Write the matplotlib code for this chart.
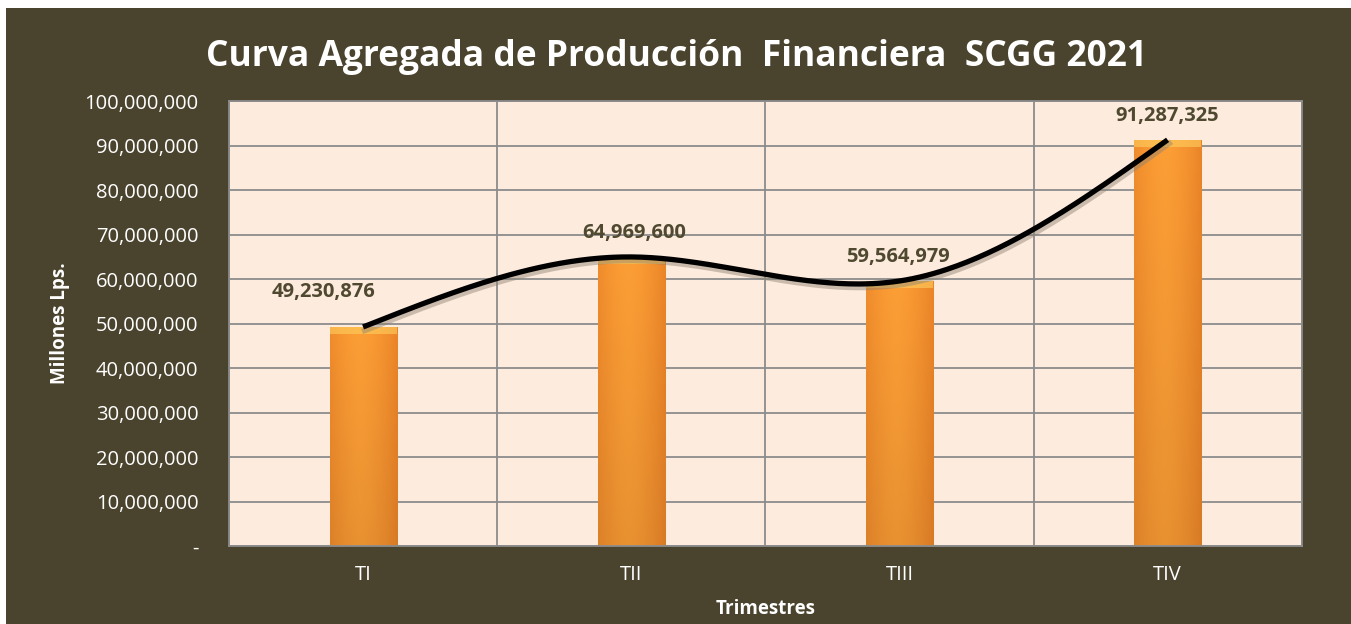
import matplotlib.pyplot as plt
import numpy as np
from matplotlib.patches import Rectangle
from matplotlib.ticker import FuncFormatter

plt.rcParams['font.family'] = ['Open Sans', 'DejaVu Sans']

# data
trimestres = ['TI', 'TII', 'TIII', 'TIV']
produccion = [49230876, 64969600, 59564979, 91287325]
yticks = np.arange(0, 100000001, 10000000)

bg = '#4A432D'
plot_bg = '#FDEBDD'

fig = plt.figure(figsize=(13.51, 6.24), dpi=100)
fig.patch.set_facecolor('white')
fig.patches.append(Rectangle((6 / 1351, 0), 1, 1 - 8 / 624, transform=fig.transFigure,
                             facecolor=bg, edgecolor='none', zorder=-10))

ax = fig.add_axes([0.1695, 0.125, 0.794, 0.713])
ax.set_facecolor(plot_bg)

x = np.arange(len(trimestres))
bars = ax.bar(x, produccion, width=0.25, color='#F7942E', edgecolor='none', zorder=2)

# orange gradient inside each bar (horizontal + vertical)
nx, ny = 64, 64
gx = np.linspace(0, 1, nx)
gy = np.linspace(0, 1, ny)  # 0 = top row of image
hprof = np.clip(1 - 1.0 * np.abs(gx - 0.45) ** 1.6 * 2, 0, 1)
base = np.array([0.99, 0.62, 0.21])
dark = np.array([0.90, 0.49, 0.14])
img = np.zeros((ny, nx, 3))
for j in range(ny):
    vfac = 1 - 0.08 * gy[j]
    for i in range(nx):
        img[j, i, :] = (dark + (base - dark) * hprof[i]) * vfac
for b in bars:
    x0, w, h = b.get_x(), b.get_width(), b.get_height()
    im = ax.imshow(img, extent=[x0, x0 + w, 0, h], aspect='auto', zorder=2.1,
                   interpolation='bilinear')
    im.set_clip_path(b)
    # top highlight
    ax.add_patch(Rectangle((x0, h - 1500000), w, 1500000, facecolor='#FFD060',
                           alpha=0.6, edgecolor='none', zorder=2.2))

# smoothed line: natural cubic spline through the bar tops
px = x.astype(float)
py = np.array(produccion, dtype=float)
n = len(px)
hh = np.diff(px)
A = np.zeros((n, n))
r = np.zeros(n)
A[0, 0] = A[-1, -1] = 1
for i in range(1, n - 1):
    A[i, i - 1] = hh[i - 1]
    A[i, i] = 2 * (hh[i - 1] + hh[i])
    A[i, i + 1] = hh[i]
    r[i] = 6 * ((py[i + 1] - py[i]) / hh[i] - (py[i] - py[i - 1]) / hh[i - 1])
M = np.linalg.solve(A, r)
cx, cy = [], []
for i in range(n - 1):
    t = np.linspace(px[i], px[i + 1], 80)
    a = (px[i + 1] - t) / hh[i]
    bb = (t - px[i]) / hh[i]
    s = (a * py[i] + bb * py[i + 1]
         + ((a ** 3 - a) * M[i] + (bb ** 3 - bb) * M[i + 1]) * hh[i] ** 2 / 6)
    cx.extend(t)
    cy.extend(s)
ax.plot(np.array(cx) + 0.006, np.array(cy) - 800000, color='#8a8070', lw=4, alpha=0.45, zorder=3)
ax.plot(cx, cy, color='black', lw=3.8, zorder=4, solid_capstyle='butt')

# labels
offsets = [(-40, 35), (3, 24), (-1, 24), (0, 24)]
for xi, v, (dx, dy) in zip(x, produccion, offsets):
    ax.annotate(f'{v:,}', (xi, v), xytext=(dx, dy), textcoords='offset pixels',
                ha='center', va='center', fontsize=14.5, fontweight='bold', color='#4F4930', zorder=5)

ax.set_xlim(-0.5, 3.5)
ax.set_ylim(0, 100000000)
ax.set_yticks(yticks)
ax.yaxis.set_major_formatter(FuncFormatter(lambda v, p: '-' if v == 0 else f'{int(v):,}'))
ax.set_xticks(x)
ax.set_xticklabels(trimestres)
ax.set_xticks([-0.5, 0.5, 1.5, 2.5, 3.5], minor=True)
ax.grid(axis='y', which='major', color='#8C8C8C', lw=1.3, zorder=1)
ax.grid(axis='x', which='minor', color='#8C8C8C', lw=1.3, zorder=1)
ax.tick_params(axis='both', which='both', length=0, colors='white', labelsize=14.5)
ax.tick_params(axis='y', pad=22)
ax.tick_params(axis='x', pad=14)
for s in ax.spines.values():
    s.set_color('#8C8C8C')
    s.set_linewidth(1.3)

ax.set_ylabel('Millones Lps.', color='white', fontsize=13.5, fontweight='bold', labelpad=10)
ax.set_xlabel('Trimestres', color='white', fontsize=13.5, fontweight='bold', labelpad=10)
fig.text(0.501, 0.909, 'Curva Agregada de Producción  Financiera  SCGG 2021', ha='center', va='center',
         color='white', fontsize=25.5, fontweight='bold')

fig.savefig('out.png', dpi=100, facecolor=fig.get_facecolor())
